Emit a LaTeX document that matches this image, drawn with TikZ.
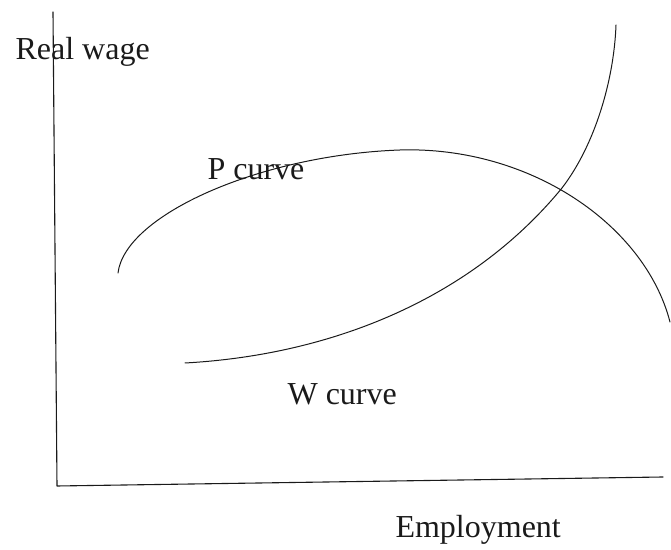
\documentclass[tikz,border=0pt]{standalone}
\usepackage{fontspec}
\setmainfont{Liberation Serif}
\definecolor{figink}{HTML}{1A1A1A}

\begin{document}
\begin{tikzpicture}[
  x=0.5pt,y=-0.5pt,
  draw=figink,text=figink,
  line width=0.55pt,line cap=round,line join=round,
  every node/.style={font=\fontsize{16}{19}\selectfont},
  lbl/.style={anchor=base west,inner sep=0pt},
  curveline/.style={line width=0.5pt}
]
\useasboundingbox (0,0) rectangle (671,550);

% Axes: the vertical one leans a little, the horizontal one rises to the right.
\coordinate (ytop) at (53,12);
\coordinate (orig) at (57,486);
\coordinate (xend) at (663,477);
\draw (ytop) -- (orig) -- (xend);

% P curve: rises, flattens out, then falls away to the right.
\coordinate (pstart) at (118,273);
\coordinate (ppeak) at (400,150);
\coordinate (pend) at (670,322);
\draw[curveline] (pstart) .. controls (125,215) and (260,155) .. (ppeak)
  .. controls (530,146) and (645,225) .. (pend);

% W curve: starts flat, then climbs steeply.
\coordinate (wstart) at (185,363);
\coordinate (wmid) at (562,188);
\coordinate (wend) at (616,25);
\draw[curveline] (wstart) .. controls (330,355) and (470,300) .. (wmid)
  .. controls (595,145) and (614,80) .. (wend);

\node[lbl] (ylabel) at (15,60) {Real wage};
\node[lbl] (plabel) at (207,180) {P curve};
\node[lbl] (wlabel) at (287,405) {W curve};
\node[lbl] (xlabel) at (395,538) {Employment};

\end{tikzpicture}
\end{document}
